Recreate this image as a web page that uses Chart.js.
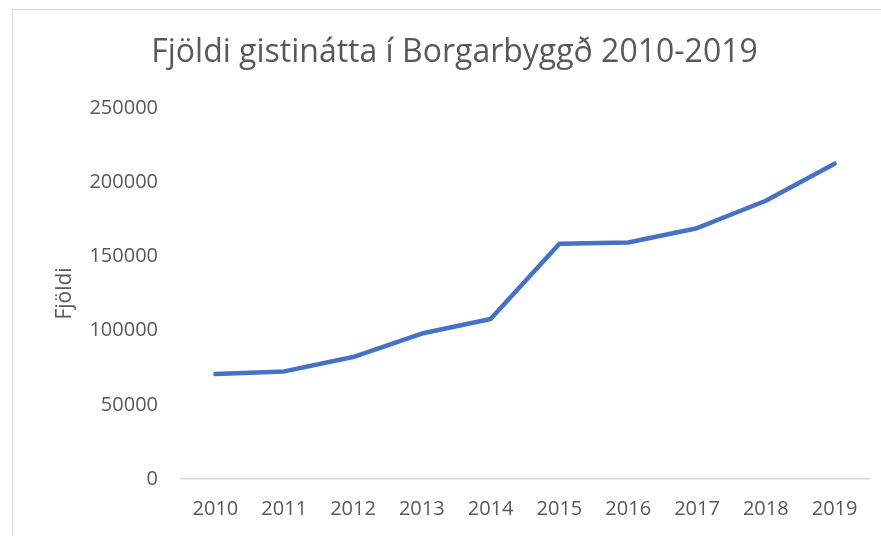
<!DOCTYPE html>
<html>
<head>
<meta charset="utf-8">
<script src="https://cdn.jsdelivr.net/npm/chart.js@4"></script>
<style>
  body { margin: 0; background: #fff; }
  #wrap { position: relative; width: 881px; height: 536px; overflow: hidden; }
  #frame { position: absolute; left: 12px; top: 9px; width: 900px; height: 600px;
           border-left: 1px solid #d9d9d9; border-top: 1px solid #d9d9d9; pointer-events: none; }
  canvas { position: absolute; left: 0; top: 0; }
</style>
</head>
<body>
<div id="wrap">
  <canvas id="myChart" width="881" height="536"></canvas>
  <div id="frame"></div>
</div>
<script>
// data
const years = ['2010', '2011', '2012', '2013', '2014', '2015', '2016', '2017', '2018', '2019']
const nights = [70800, 72500, 82200, 98000, 107800, 158500, 159400, 169000, 187500, 212500]
const yTicks = [0, 50000, 100000, 150000, 200000, 250000]

const textColor = '#595959'
const fontFamily = "'Open Sans', 'Noto Sans', sans-serif"

let myChart
function init() {
    const ctx = document.getElementById('myChart').getContext('2d');
    myChart = new Chart(ctx, {
        type: 'line',
        data: {
            labels: years,
            datasets: [{
                label: 'Fjöldi',
                data: nights,
                borderColor: '#4472C4',
                borderWidth: 4.5,
                borderCapStyle: 'round',
                borderJoinStyle: 'round',
                pointRadius: 0,
                tension: 0,
                fill: false
            }]
        },
        options: {
            responsive: false,
            animation: false,
            layout: {
                // wider on the left so the title sits where the original frame centres it
                padding: { top: 10, right: 12, bottom: 0, left: 40 }
            },
            plugins: {
                legend: { display: false },
                tooltip: { enabled: false },
                title: {
                    display: true,
                    text: 'Fjöldi gistinátta í Borgarbyggð 2010-2019',
                    color: textColor,
                    font: { family: fontFamily, size: 32, weight: 'normal' },
                    padding: { top: 24, bottom: 35.6 }
                }
            },
            scales: {
                x: {
                    offset: true,
                    grid: { display: false, drawTicks: false },
                    border: { display: true, color: '#d9d9d9', width: 1.5 },
                    ticks: {
                        color: textColor,
                        font: { family: fontFamily, size: 20 },
                        padding: 18,
                        maxRotation: 0
                    },
                    afterFit: function (scale) { scale.height = 536 - 479 }
                },
                y: {
                    min: 0,
                    max: 250000,
                    afterBuildTicks: function (scale) {
                        scale.ticks = yTicks.map(v => ({ value: v }))
                    },
                    grid: { display: false, drawTicks: false },
                    border: { display: false },
                    ticks: {
                        color: textColor,
                        font: { family: fontFamily, size: 20 },
                        padding: 23,
                        callback: v => String(v)
                    },
                    title: {
                        display: true,
                        text: 'Fjöldi',
                        color: textColor,
                        font: { family: fontFamily, size: 21 },
                        padding: { top: 12, bottom: 0 }
                    },
                    afterFit: function (scale) { scale.width = 181 - 40 }
                }
            }
        }
    });
}

init();
</script>
</body>
</html>
